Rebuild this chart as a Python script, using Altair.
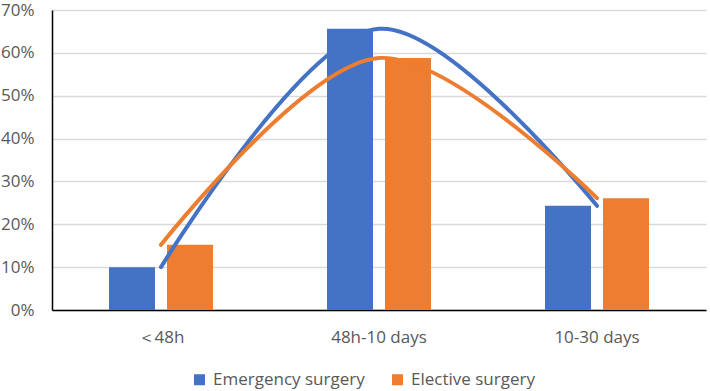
import altair as alt
import pandas as pd

# Time to operation, share of patients per group
categories = ["＜48h", "48h-10 days", "10-30 days"]
series = ["Emergency surgery", "Elective surgery"]
emergency = [10.0, 65.6, 24.3]
elective = [15.2, 58.8, 26.1]

colors = ["#4472C4", "#ED7D31"]
font = "Open Sans"
text_color = "#595959"

rows = []
for name, vals in zip(series, [emergency, elective]):
    for cat, v in zip(categories, vals):
        rows.append({"category": cat, "group": name, "value": v / 100})
df = pd.DataFrame(rows)

x_enc = alt.X(
    "category:N",
    sort=categories,
    scale=alt.Scale(paddingInner=0.523, paddingOuter=0.2615),
    axis=alt.Axis(
        title=None,
        labelAngle=0,
        ticks=False,
        domainColor="#000000",
        domainWidth=1.5,
        labelFont=font,
        labelFontSize=17,
        labelColor=text_color,
        labelPadding=19,
        grid=False,
    ),
)
y_enc = alt.Y(
    "value:Q",
    scale=alt.Scale(domain=[0, 0.7], nice=False),
    axis=alt.Axis(
        title=None,
        format=".0%",
        values=[0, 0.1, 0.2, 0.3, 0.4, 0.5, 0.6, 0.7],
        ticks=False,
        domainColor="#000000",
        domainWidth=1.5,
        gridColor="#D9D9D9",
        gridWidth=1.5,
        labelFont=font,
        labelFontSize=17,
        labelColor=text_color,
        labelPadding=18,
    ),
)
color_scale = alt.Scale(domain=series, range=colors)

bars = alt.Chart(df).mark_bar().encode(
    x=x_enc,
    xOffset=alt.XOffset(
        "group:N", sort=series, scale=alt.Scale(paddingInner=0.207, paddingOuter=0)
    ),
    y=y_enc,
    color=alt.Color(
        "group:N",
        scale=color_scale,
        legend=alt.Legend(
            title=None,
            orient="none",
            direction="horizontal",
            legendX=139,
            legendY=361,
            symbolType="square",
            symbolSize=121,
            symbolStrokeWidth=0,
            labelFont=font,
            labelFontSize=17,
            labelColor=text_color,
            labelOffset=5,
            columnPadding=24,
        ),
    ),
)

trend = alt.Chart(df).mark_line(
    strokeWidth=4, strokeCap="round", interpolate="catmull-rom"
).encode(
    x=alt.X("category:N", sort=categories),
    y="value:Q",
    color=alt.Color("group:N", scale=color_scale, legend=None),
    detail="group:N",
)

chart = (
    alt.layer(bars, trend)
    .properties(
        width=654,
        height=300,
        autosize=alt.AutoSizeParams(type="none"),
        padding={"left": 52, "top": 10, "right": 4, "bottom": 81},
    )
    .configure_view(stroke=None)
)

chart.save("out.html", embed_options={"renderer": "svg", "actions": False})
